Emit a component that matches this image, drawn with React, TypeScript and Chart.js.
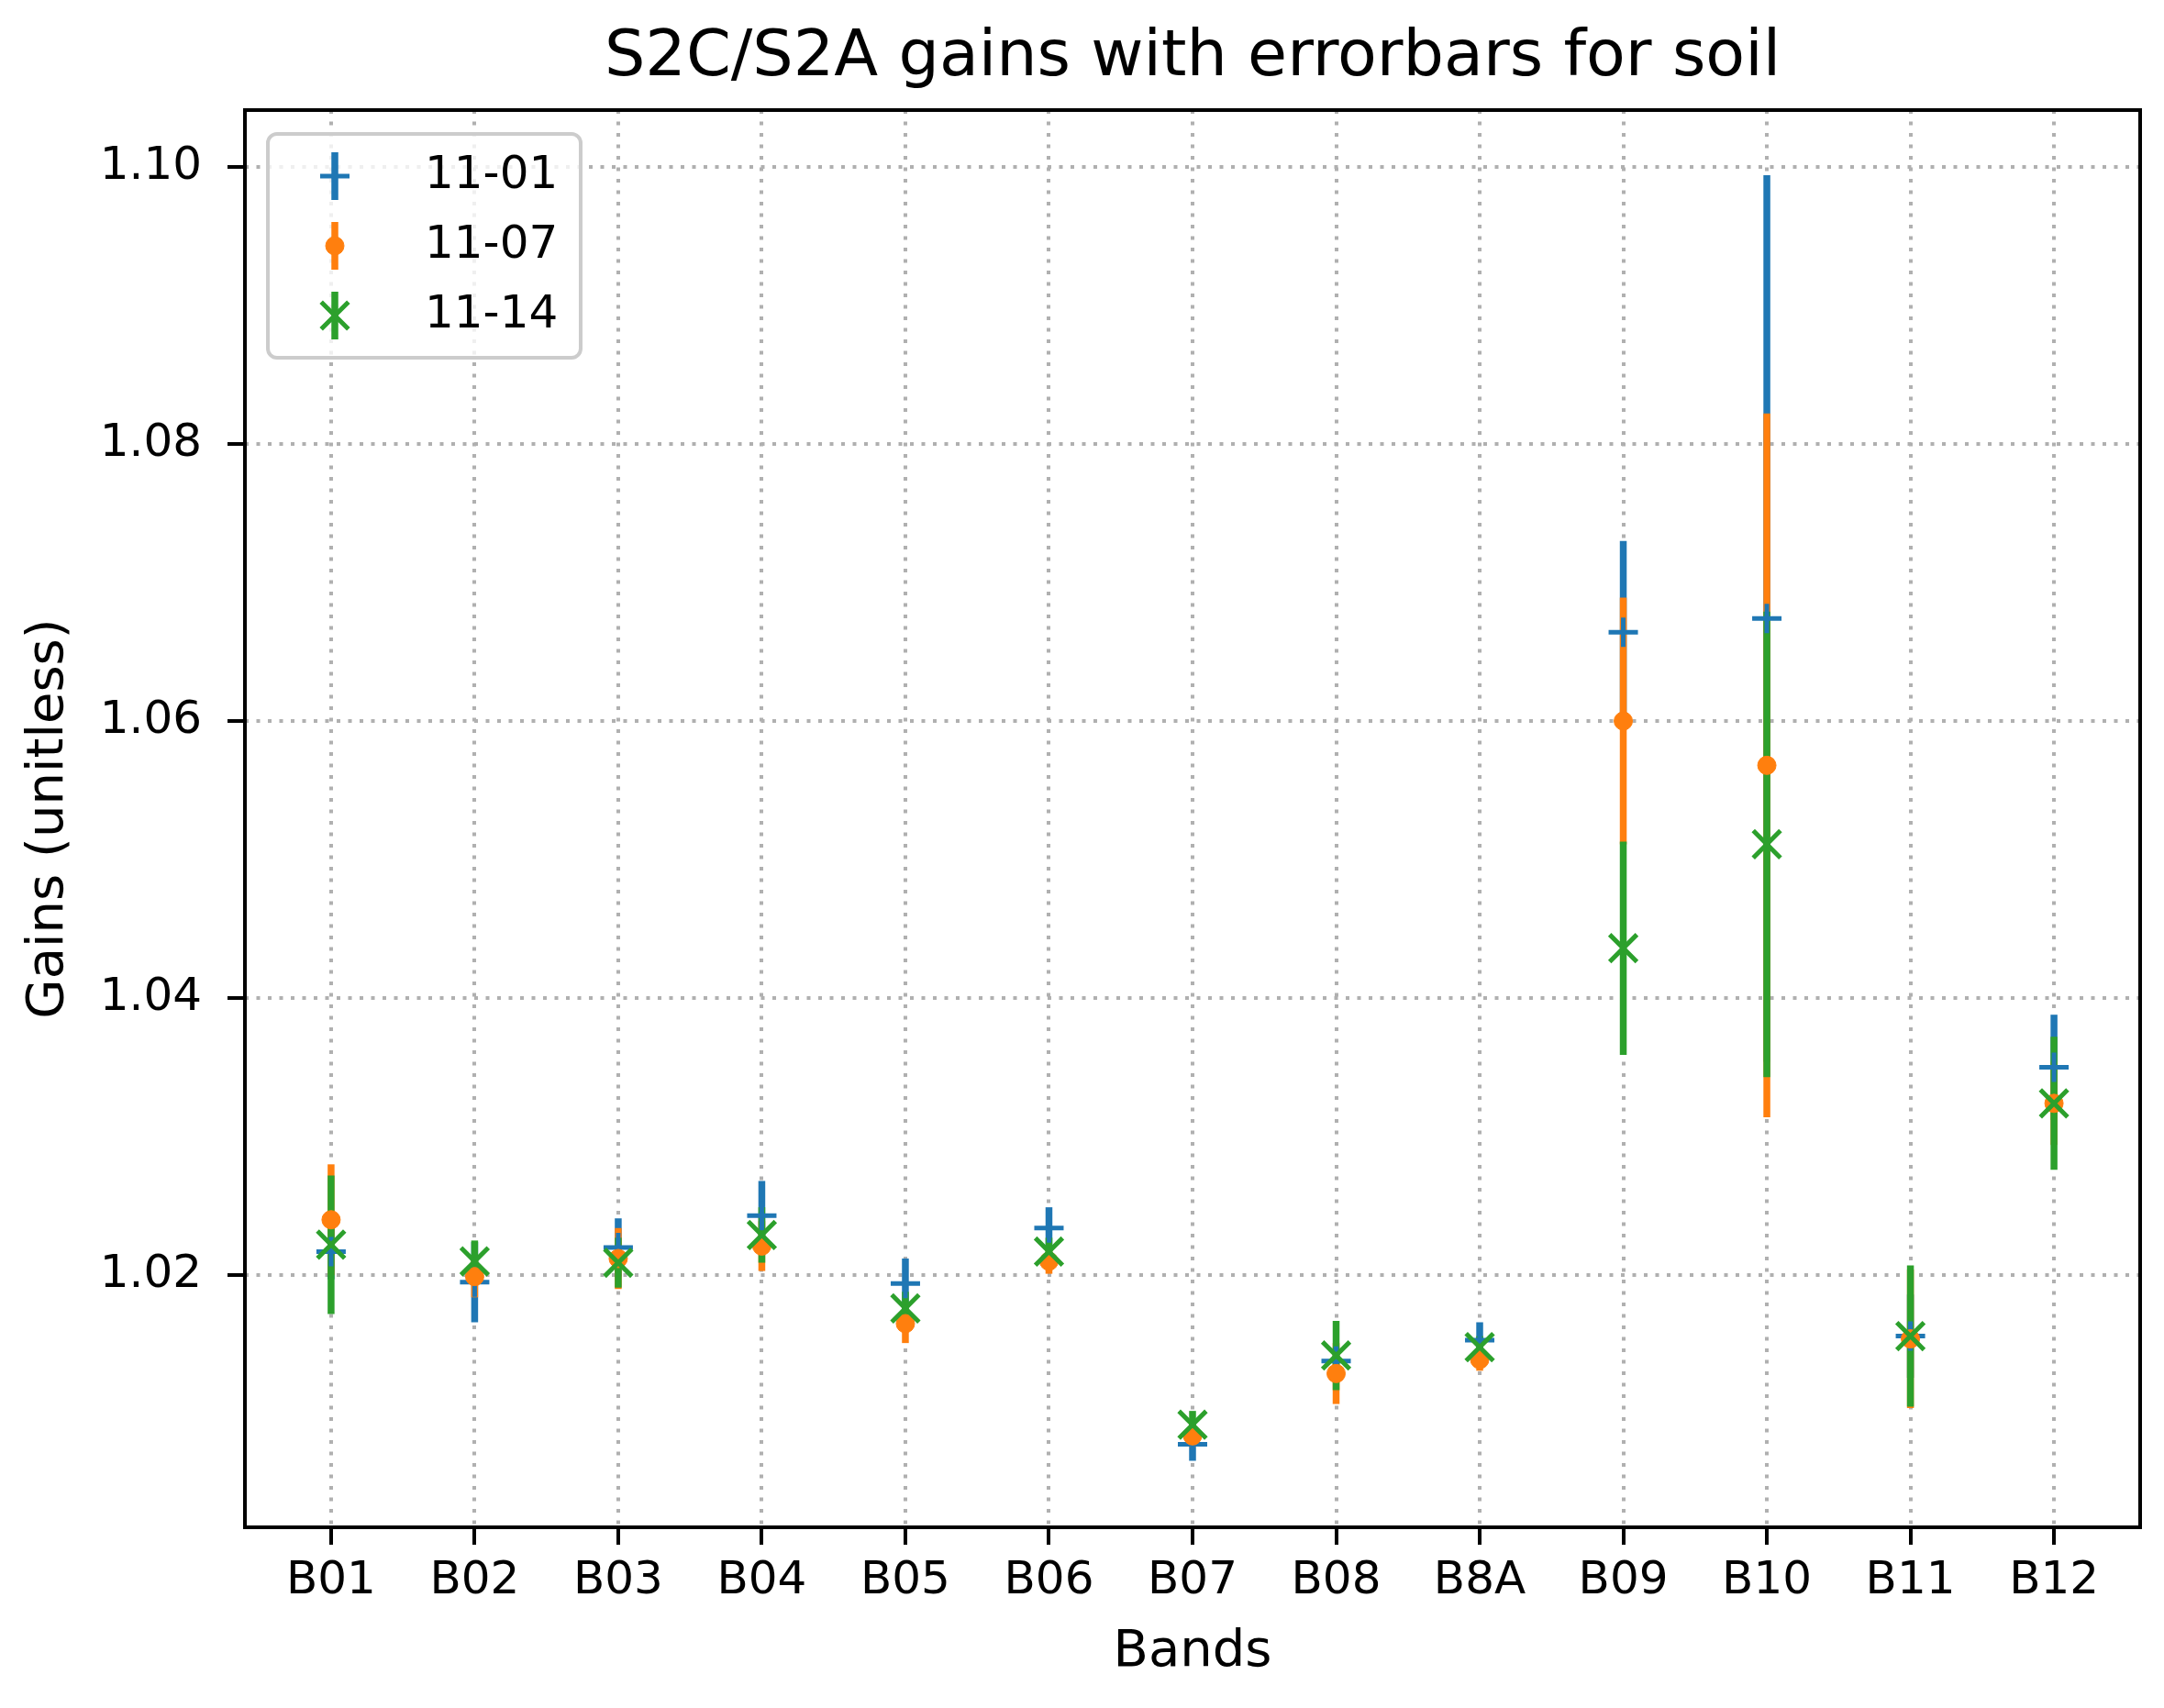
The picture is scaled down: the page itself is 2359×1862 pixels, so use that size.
import React, { useEffect, useRef } from "react";
import { Chart, registerables } from "chart.js";

Chart.register(...registerables);

const bands = ["B01", "B02", "B03", "B04", "B05", "B06", "B07", "B08", "B8A", "B09", "B10", "B11", "B12"];
const seriesLabels = ["11-01", "11-07", "11-14"];

const gain1101 = [1.0217, 1.0195, 1.0220, 1.0243, 1.0194, 1.0234, 1.0078, 1.0138, 1.0153, 1.0664, 1.0674, 1.0156, 1.0350];
const err1101 = [0.0020, 0.0029, 0.0021, 0.0025, 0.0018, 0.0015, 0.0012, 0.0010, 0.0013, 0.0066, 0.0320, 0.0030, 0.0038];

const gain1107 = [1.0240, 1.0199, 1.0212, 1.0221, 1.0165, 1.0210, 1.0084, 1.0129, 1.0139, 1.0600, 1.0568, 1.0154, 1.0324];
const err1107 = [0.0040, 0.0015, 0.0022, 0.0018, 0.0014, 0.0009, 0.0008, 0.0022, 0.0008, 0.0089, 0.0254, 0.0050, 0.0030];

const gain1114 = [1.0222, 1.0210, 1.0209, 1.0229, 1.0176, 1.0217, 1.0092, 1.0142, 1.0148, 1.0436, 1.0511, 1.0156, 1.0324];
const err1114 = [0.0050, 0.0015, 0.0018, 0.0020, 0.0012, 0.0010, 0.0010, 0.0025, 0.0008, 0.0077, 0.0168, 0.0051, 0.0048];

const yTicks = [1.02, 1.04, 1.06, 1.08, 1.10];

const BLUE = "#1f77b4";
const ORANGE = "#ff7f0e";
const GREEN = "#2ca02c";
const FONT = "DejaVu Sans";

const W = 2359;
const H = 1862;

type Marker = { style: string; radius: number; width: number; fill: boolean };

const markers: Marker[] = [
  { style: "cross", radius: 16, width: 5, fill: false },
  { style: "circle", radius: 10, width: 1, fill: true },
  { style: "crossRot", radius: 21, width: 5, fill: false },
];

function drawMarker(ctx: CanvasRenderingContext2D, m: Marker, color: string, x: number, y: number) {
  ctx.save();
  ctx.strokeStyle = color;
  ctx.fillStyle = color;
  ctx.lineWidth = m.width;
  ctx.beginPath();
  if (m.style === "circle") {
    ctx.arc(x, y, m.radius, 0, Math.PI * 2);
    ctx.fill();
    ctx.stroke();
  } else if (m.style === "cross") {
    ctx.moveTo(x - m.radius, y);
    ctx.lineTo(x + m.radius, y);
    ctx.moveTo(x, y - m.radius);
    ctx.lineTo(x, y + m.radius);
    ctx.stroke();
  } else {
    const d = m.radius * Math.SQRT1_2;
    ctx.moveTo(x - d, y - d);
    ctx.lineTo(x + d, y + d);
    ctx.moveTo(x + d, y - d);
    ctx.lineTo(x - d, y + d);
    ctx.stroke();
  }
  ctx.restore();
}

const errorBarPlugin = {
  id: "errorBars",
  beforeDatasetsDraw(chart: any) {
    const { ctx, chartArea } = chart;
    const xs = chart.scales.x;
    const ys = chart.scales.y;
    ctx.save();
    ctx.beginPath();
    ctx.rect(chartArea.left, chartArea.top, chartArea.right - chartArea.left, chartArea.bottom - chartArea.top);
    ctx.clip();
    ctx.lineWidth = 7.5;
    ctx.lineCap = "butt";
    chart.data.datasets.forEach((ds: any) => {
      ctx.strokeStyle = ds.borderColor;
      ds.data.forEach((p: any, i: number) => {
        const e = ds.errors[i];
        const px = xs.getPixelForValue(p.x);
        ctx.beginPath();
        ctx.moveTo(px, ys.getPixelForValue(p.y - e));
        ctx.lineTo(px, ys.getPixelForValue(p.y + e));
        ctx.stroke();
      });
    });
    ctx.restore();
  },
  afterDatasetsDraw(chart: any) {
    const { ctx, chartArea } = chart;
    ctx.save();
    ctx.strokeStyle = "#000";
    ctx.lineWidth = 4;
    ctx.strokeRect(chartArea.left, chartArea.top, chartArea.right - chartArea.left, chartArea.bottom - chartArea.top);
    ctx.restore();
  },
  afterDraw(chart: any) {
    const { ctx, chartArea } = chart;
    const bx = chartArea.left + 25;
    const by = chartArea.top + 26;
    const bw = 341;
    const bh = 244;
    ctx.save();
    ctx.beginPath();
    (ctx as any).roundRect(bx, by, bw, bh, 10);
    ctx.fillStyle = "rgba(255,255,255,0.8)";
    ctx.fill();
    ctx.strokeStyle = "#cccccc";
    ctx.lineWidth = 4;
    ctx.stroke();
    const hx = bx + 73;
    chart.data.datasets.forEach((ds: any, i: number) => {
      const cy = by + 46 + i * 76;
      ctx.strokeStyle = ds.borderColor;
      ctx.lineWidth = 7.5;
      ctx.beginPath();
      ctx.moveTo(hx, cy - 26);
      ctx.lineTo(hx, cy + 26);
      ctx.stroke();
      drawMarker(ctx, markers[i], ds.borderColor, hx, cy);
      ctx.fillStyle = "#000";
      ctx.font = `50px "${FONT}"`;
      ctx.textAlign = "left";
      ctx.textBaseline = "middle";
      ctx.fillText(ds.label, bx + 171, cy);
    });
    ctx.restore();
  },
};

function makeDataset(label: string, values: number[], errors: number[], color: string, m: Marker, order: number) {
  return {
    label,
    data: values.map((v, i) => ({ x: i, y: v })),
    errors,
    borderColor: color,
    backgroundColor: m.fill ? color : "rgba(0,0,0,0)",
    pointBorderColor: color,
    pointBackgroundColor: m.fill ? color : "rgba(0,0,0,0)",
    pointStyle: m.style,
    pointRadius: m.radius,
    pointHoverRadius: m.radius,
    pointBorderWidth: m.width,
    borderWidth: m.width,
    showLine: false,
    order,
  };
}

export default function App() {
  const canvasRef = useRef<HTMLCanvasElement | null>(null);

  useEffect(() => {
    if (!canvasRef.current) return;
    const datasets = [
      makeDataset(seriesLabels[0], gain1101, err1101, BLUE, markers[0], 3),
      makeDataset(seriesLabels[1], gain1107, err1107, ORANGE, markers[1], 2),
      makeDataset(seriesLabels[2], gain1114, err1114, GREEN, markers[2], 1),
    ];
    const chart = new Chart(canvasRef.current, {
      type: "scatter",
      data: { datasets: datasets as any },
      plugins: [errorBarPlugin],
      options: {
        animation: false,
        responsive: false,
        devicePixelRatio: 1,
        font: { family: FONT },
        color: "#000",
        layout: { padding: { left: 0, right: 23, top: 0, bottom: 0 } },
        plugins: {
          legend: { display: false },
          tooltip: { enabled: false },
          title: {
            display: true,
            fullSize: false,
            text: "S2C/S2A gains with errorbars for soil",
            color: "#000",
            font: { family: FONT, size: 70, weight: "normal" },
            padding: { top: 22, bottom: 14 },
          },
        },
        scales: {
          x: {
            type: "linear",
            min: -0.6,
            max: 12.6,
            afterBuildTicks: (scale: any) => {
              scale.ticks = bands.map((_, i) => ({ value: i }));
            },
            afterFit: (scale: any) => {
              scale.height = 197;
            },
            ticks: {
              color: "#000",
              font: { family: FONT, size: 50 },
              padding: 10,
              maxRotation: 0,
              autoSkip: false,
              callback: (v: any) => bands[Math.round(Number(v))] ?? "",
            },
            grid: {
              color: "#b0b0b0",
              lineWidth: 4,
              tickColor: "#000",
              tickWidth: 4,
              tickLength: 19,
            },
            border: { display: false, dash: [4, 8.5] },
            title: {
              display: true,
              text: "Bands",
              color: "#000",
              font: { family: FONT, size: 56 },
              padding: { top: 0, bottom: 27 },
            },
          },
          y: {
            type: "linear",
            min: 1.0018,
            max: 1.1041,
            afterBuildTicks: (scale: any) => {
              scale.ticks = yTicks.map((v) => ({ value: v }));
            },
            afterFit: (scale: any) => {
              scale.width = 267;
            },
            ticks: {
              color: "#000",
              font: { family: FONT, size: 50 },
              padding: 28,
              callback: (v: any) => Number(v).toFixed(2),
            },
            grid: {
              color: "#b0b0b0",
              lineWidth: 4,
              tickColor: "#000",
              tickWidth: 4,
              tickLength: 19,
            },
            border: { display: false, dash: [4, 8.5] },
            title: {
              display: true,
              text: "Gains (unitless)",
              color: "#000",
              font: { family: FONT, size: 56 },
              padding: { top: 20, bottom: 0 },
            },
          },
        },
      } as any,
    });
    return () => chart.destroy();
  }, []);

  return (
    <div style={{ position: "absolute", left: 0, top: 0, width: W, height: H, background: "#fff" }}>
      <canvas ref={canvasRef} width={W} height={H} style={{ display: "block", width: W, height: H }} />
    </div>
  );
}
